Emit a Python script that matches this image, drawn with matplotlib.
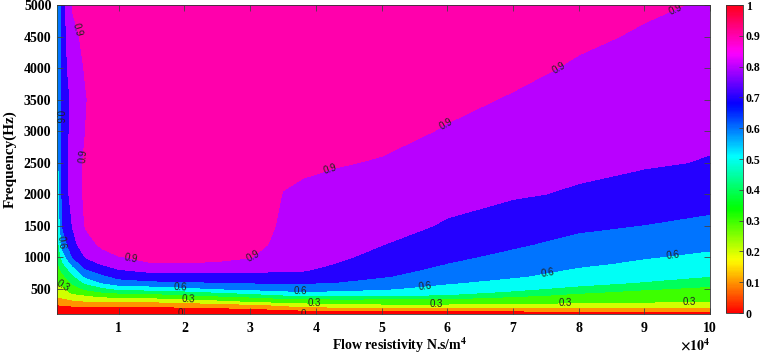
import numpy as np
import matplotlib
matplotlib.use('Agg')
import matplotlib.pyplot as plt
from matplotlib.colors import Normalize
from matplotlib.ticker import FuncFormatter

plt.rcParams['font.family'] = 'Liberation Serif'
plt.rcParams['font.weight'] = 'bold'
plt.rcParams['mathtext.fontset'] = 'stix'

# flow resistivity (N.s/m^4), one column of the grid each
resistivity = [600, 1500, 3000, 5000, 7500, 10000, 15000, 20000, 25000, 30000,
               33000, 35000, 38000, 43000, 50000, 60000, 70000, 80000, 90000, 100000]
# frequency rows (Hz)
frequency = [100, 150, 200, 250, 300, 350, 400, 450, 500, 600, 700, 800, 900,
             1000, 1200, 1500, 2000, 2500, 3000, 3500, 4000, 4500, 5000]

# absorption coefficient, one list per resistivity value
alpha_600 = [-0.01, 0.04, 0.07, 0.102, 0.15, 0.19, 0.22, 0.25, 0.27, 0.31, 0.34, 0.36, 0.38, 0.40, 0.43, 0.47, 0.51, 0.53, 0.54, 0.55, 0.55, 0.55, 0.55]
alpha_1500 = [-0.01, 0.04, 0.07, 0.11, 0.16, 0.198, 0.23, 0.26, 0.28, 0.33, 0.38, 0.43, 0.49, 0.55, 0.64, 0.71, 0.74, 0.75, 0.75, 0.75, 0.76, 0.76, 0.77]
alpha_3000 = [-0.01, 0.05, 0.08, 0.12, 0.18, 0.23, 0.28, 0.32, 0.35, 0.42, 0.48, 0.55, 0.63, 0.705, 0.77, 0.805, 0.84, 0.84, 0.83, 0.82, 0.85, 0.87, 0.91]
alpha_5000 = [-0.01, 0.05, 0.09, 0.13, 0.198, 0.25, 0.302, 0.36, 0.42, 0.52, 0.62, 0.69, 0.76, 0.805, 0.86, 0.91, 0.92, 0.92, 0.902, 0.895, 0.91, 0.93, 0.94]
alpha_7500 = [-0.01, 0.05, 0.08, 0.13, 0.195, 0.27, 0.34, 0.405, 0.47, 0.61, 0.68, 0.75, 0.81, 0.86, 0.92, 0.95, 0.96, 0.96, 0.96, 0.96, 0.96, 0.96, 0.96]
alpha_10000 = [-0.01, 0.05, 0.085, 0.14, 0.198, 0.28, 0.35, 0.43, 0.52, 0.66, 0.73, 0.795, 0.85, 0.895, 0.95, 0.97, 0.98, 0.98, 0.98, 0.98, 0.98, 0.98, 0.98]
alpha_15000 = [-0.01, 0.05, 0.08, 0.14, 0.21, 0.29, 0.36, 0.45, 0.54, 0.68, 0.76, 0.83, 0.897, 0.92, 0.96, 0.98, 0.98, 0.98, 0.98, 0.98, 0.98, 0.98, 0.98]
alpha_20000 = [-0.01, 0.05, 0.09, 0.15, 0.23, 0.32, 0.39, 0.47, 0.57, 0.69, 0.76, 0.83, 0.897, 0.925, 0.96, 0.98, 0.98, 0.98, 0.98, 0.98, 0.98, 0.98, 0.98]
alpha_25000 = [-0.01, 0.05, 0.098, 0.17, 0.26, 0.35, 0.42, 0.51, 0.602, 0.698, 0.765, 0.83, 0.89, 0.92, 0.955, 0.97, 0.98, 0.98, 0.98, 0.98, 0.98, 0.98, 0.98]
alpha_30000 = [-0.01, 0.06, 0.12, 0.19, 0.302, 0.37, 0.45, 0.55, 0.62, 0.706, 0.77, 0.82, 0.86, 0.905, 0.94, 0.96, 0.97, 0.97, 0.97, 0.97, 0.97, 0.97, 0.97]
alpha_33000 = [-0.01, 0.06, 0.13, 0.21, 0.32, 0.39, 0.48, 0.57, 0.63, 0.71, 0.77, 0.815, 0.84, 0.86, 0.895, 0.915, 0.93, 0.95, 0.96, 0.97, 0.97, 0.97, 0.97]
alpha_35000 = [-0.01, 0.065, 0.15, 0.23, 0.33, 0.405, 0.498, 0.58, 0.64, 0.71, 0.77, 0.81, 0.835, 0.85, 0.865, 0.88, 0.897, 0.925, 0.95, 0.96, 0.96, 0.96, 0.96]
alpha_38000 = [-0.01, 0.08, 0.17, 0.26, 0.34, 0.41, 0.51, 0.59, 0.645, 0.71, 0.765, 0.81, 0.83, 0.84, 0.85, 0.86, 0.885, 0.915, 0.94, 0.95, 0.96, 0.96, 0.96]
alpha_43000 = [-0.01, 0.09, 0.185, 0.27, 0.345, 0.42, 0.51, 0.585, 0.63, 0.699, 0.74, 0.77, 0.799, 0.815, 0.835, 0.85, 0.875, 0.905, 0.93, 0.945, 0.955, 0.96, 0.96]
alpha_50000 = [-0.01, 0.095, 0.19, 0.29, 0.35, 0.415, 0.51, 0.56, 0.61, 0.66, 0.71, 0.735, 0.76, 0.775, 0.802, 0.83, 0.86, 0.895, 0.92, 0.935, 0.945, 0.95, 0.955]
alpha_60000 = [-0.01, 0.102, 0.196, 0.29, 0.35, 0.41, 0.495, 0.53, 0.565, 0.61, 0.645, 0.675, 0.699, 0.715, 0.745, 0.792, 0.825, 0.86, 0.895, 0.915, 0.93, 0.94, 0.945]
alpha_70000 = [-0.01, 0.105, 0.199, 0.285, 0.33, 0.375, 0.425, 0.49, 0.52, 0.57, 0.61, 0.635, 0.66, 0.68, 0.71, 0.75, 0.81, 0.84, 0.87, 0.895, 0.915, 0.93, 0.94]
alpha_80000 = [-0.01, 0.11, 0.203, 0.275, 0.32, 0.35, 0.38, 0.415, 0.475, 0.53, 0.565, 0.59, 0.615, 0.635, 0.675, 0.715, 0.79, 0.82, 0.85, 0.87, 0.893, 0.91, 0.925]
alpha_90000 = [-0.01, 0.115, 0.205, 0.265, 0.31, 0.335, 0.36, 0.38, 0.41, 0.495, 0.53, 0.56, 0.585, 0.605, 0.645, 0.698, 0.76, 0.81, 0.835, 0.855, 0.875, 0.894, 0.908]
alpha_100000 = [-0.01, 0.115, 0.205, 0.26, 0.302, 0.325, 0.345, 0.365, 0.38, 0.435, 0.502, 0.53, 0.56, 0.58, 0.62, 0.68, 0.735, 0.795, 0.815, 0.835, 0.855, 0.875, 0.895]

alpha_columns = [alpha_600, alpha_1500, alpha_3000, alpha_5000, alpha_7500, alpha_10000,
                 alpha_15000, alpha_20000, alpha_25000, alpha_30000, alpha_33000,
                 alpha_35000, alpha_38000, alpha_43000, alpha_50000, alpha_60000,
                 alpha_70000, alpha_80000, alpha_90000, alpha_100000]

fill_levels = [-0.05, 0.1, 0.2, 0.3, 0.4, 0.5, 0.6, 0.7, 0.8, 0.9, 1.0]
label_levels = [0, 0.3, 0.6, 0.9]
colorbar_ticks = [0, 0.1, 0.2, 0.3, 0.4, 0.5, 0.6, 0.7, 0.8, 0.9, 1]

# where the contour labels sit (resistivity, frequency)
label_spots = [(3100, 4590), (4500, 2600), (11800, 993), (30500, 1009), (42200, 2392),
               (60000, 3076), (77100, 3982), (95500, 4760),
               (1100, 3235), (1900, 1247), (19400, 484), (37600, 452), (56600, 532),
               (75300, 754), (94300, 1041),
               (1600, 564), (20600, 325), (39700, 246), (58400, 246), (77900, 246),
               (96900, 277),
               (19400, 112), (38100, 112)]

X, Y = np.meshgrid(resistivity, frequency)
Z = np.array(alpha_columns).T

fig = plt.figure(figsize=(7.62, 3.55), dpi=100)
ax = fig.add_axes([57 / 762, 41 / 355, 653 / 762, 309 / 355])

band_colors = plt.cm.hsv(np.arange(10) / 10)
ax.contourf(X, Y, Z, levels=fill_levels, colors=band_colors)
cs = ax.contour(X, Y, Z, levels=label_levels, colors='none')
labels = ax.clabel(cs, fmt='%g', manual=label_spots, fontsize=7, colors='#222222')
for t in labels:
    t.set_fontfamily('Liberation Sans')
    t.set_fontweight('normal')

ax.set_xlim(600, 100000)
ax.set_ylim(100, 5000)
ax.set_xticks(np.arange(10000, 100001, 10000))
ax.set_yticks(np.arange(500, 5001, 500))
ax.xaxis.set_major_formatter(FuncFormatter(lambda v, p: f'{v / 1e4:g}'))
ax.tick_params(direction='in', length=4, width=0.6, top=True, right=True,
               color='#444444', labelsize=10)
ax.tick_params(axis='x', pad=6)
ax.tick_params(axis='y', pad=4)
for s in ax.spines.values():
    s.set_linewidth(0.6)
    s.set_color('#333333')

ax.set_xlabel(r'Flow resistivity N.s/m$^{\mathbf{4}}$', fontsize=10, fontweight='bold',
              labelpad=0, x=0.524)
ax.set_ylabel('Frequency(Hz)', fontsize=11, fontweight='bold', labelpad=5)
ax.text(1.0, -0.075, r'$\mathbf{\times 10^{4}}$', transform=ax.transAxes,
        ha='right', va='top', fontsize=10)

cax = fig.add_axes([726 / 762, 42 / 355, 17 / 762, 308 / 355])
sm = matplotlib.cm.ScalarMappable(norm=Normalize(0, 1), cmap='hsv')
cb = fig.colorbar(sm, cax=cax, ticks=colorbar_ticks)
cb.ax.set_yticklabels([f'{t:g}' for t in colorbar_ticks])
cb.ax.tick_params(direction='in', length=3, width=0.6, labelsize=8.5, pad=2, color='#444444')
cb.outline.set_linewidth(0.6)
cb.outline.set_edgecolor('#333333')

fig.savefig('out.png', dpi=100)
